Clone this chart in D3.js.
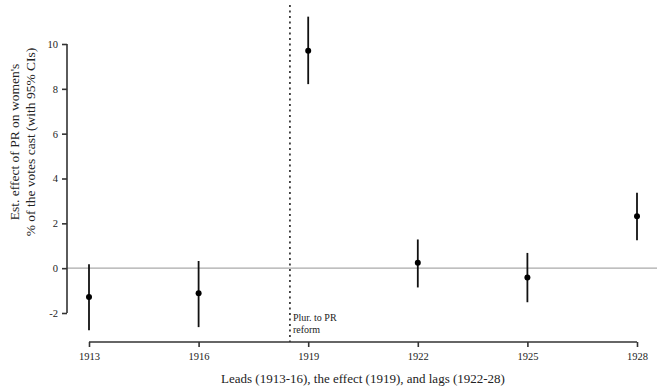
<!DOCTYPE html>
<html>
<head>
<meta charset="utf-8">
<script src="https://cdn.jsdelivr.net/npm/d3@7"></script>
<style>
  body { margin: 0; background: #fff; }
  text { font-family: "Liberation Serif", "DejaVu Serif", serif; fill: #222; }
</style>
</head>
<body>
<div id="chart"></div>
<script>
// estimates
var years = [1913, 1916, 1919, 1922, 1925, 1928];
var est   = [-1.29, -1.12, 9.70, 0.24, -0.42, 2.32];
var lower = [-2.77, -2.63, 8.21, -0.86, -1.52, 1.25];
var upper = [0.18, 0.32, 11.22, 1.28, 0.68, 3.36];
var yTicks = [-2, 0, 2, 4, 6, 8, 10];
var reformYear = 1918.5;

var width = 657, height = 389;

var svg = d3.select("#chart").append("svg")
    .attr("width", width)
    .attr("height", height);

var x = d3.scaleLinear().domain([1913, 1928]).range([89, 637]);
var y = d3.scaleLinear().domain([-2, 10]).range([313, 44]);
var axisY = 342, axisX = 67;

// zero reference line
svg.append("line")
    .attr("x1", axisX).attr("x2", width)
    .attr("y1", y(0)).attr("y2", y(0))
    .attr("stroke", "#aaa").attr("stroke-width", 1.4);

// reform line
svg.append("line")
    .attr("x1", x(reformYear)).attr("x2", x(reformYear))
    .attr("y1", 5).attr("y2", axisY)
    .attr("stroke", "#222").attr("stroke-width", 1.6)
    .attr("stroke-dasharray", "2,3.5");

svg.append("text")
    .attr("x", x(reformYear) + 3).attr("y", 321)
    .style("font-size", "10px")
    .text("Plur. to PR");
svg.append("text")
    .attr("x", x(reformYear) + 3).attr("y", 333)
    .style("font-size", "10px")
    .text("reform");

// y axis (plain hyphen for negatives, like the original)
var yAxis = svg.append("g")
    .attr("transform", "translate(" + axisX + ",0)")
    .call(d3.axisLeft(y).tickValues(yTicks).tickFormat(function(d) { return String(d); })
      .tickSize(5).tickPadding(4));

// x axis
var xAxis = svg.append("g")
    .attr("transform", "translate(0," + axisY + ")")
    .call(d3.axisBottom(x).tickValues(years).tickFormat(d3.format("d")).tickSize(5).tickPadding(6));

[yAxis, xAxis].forEach(function(g) {
  g.select(".domain").attr("stroke", "#333").attr("stroke-width", 1.6);
  g.selectAll(".tick line").attr("stroke", "#333").attr("stroke-width", 1.6);
  g.selectAll(".tick text")
    .style("font-family", "'Liberation Serif', serif")
    .style("font-size", "10.5px")
    .attr("fill", "#222");
});
// d3 draws outer tick stubs on the domain; remove them
yAxis.select(".domain").attr("d", "M0," + y(10) + "V" + y(-2));
xAxis.select(".domain").attr("d", "M" + x(1913) + ",0H" + x(1928));

// confidence intervals
svg.selectAll(".ci")
    .data(years)
  .enter().append("line")
    .attr("x1", function(d) { return x(d); })
    .attr("x2", function(d) { return x(d); })
    .attr("y1", function(d, i) { return y(upper[i]); })
    .attr("y2", function(d, i) { return y(lower[i]); })
    .attr("stroke", "#111").attr("stroke-width", 1.8);

// point estimates
svg.selectAll(".pt")
    .data(years)
  .enter().append("circle")
    .attr("cx", function(d) { return x(d); })
    .attr("cy", function(d, i) { return y(est[i]); })
    .attr("r", 3)
    .attr("fill", "#000");

// axis titles
svg.append("text")
    .attr("x", 363).attr("y", 383)
    .attr("text-anchor", "middle")
    .style("font-size", "13px")
    .text("Leads (1913-16), the effect (1919), and lags (1922-28)");

var yl = svg.append("text")
    .attr("transform", "translate(19,142) rotate(-90)")
    .attr("text-anchor", "middle")
    .style("font-size", "13.5px");
yl.append("tspan").attr("x", 0).attr("dy", 0).text("Est. effect of PR on women's");
yl.append("tspan").attr("x", 0).attr("dy", 15.5).text("% of the votes cast (with 95% CIs)");
</script>
</body>
</html>
